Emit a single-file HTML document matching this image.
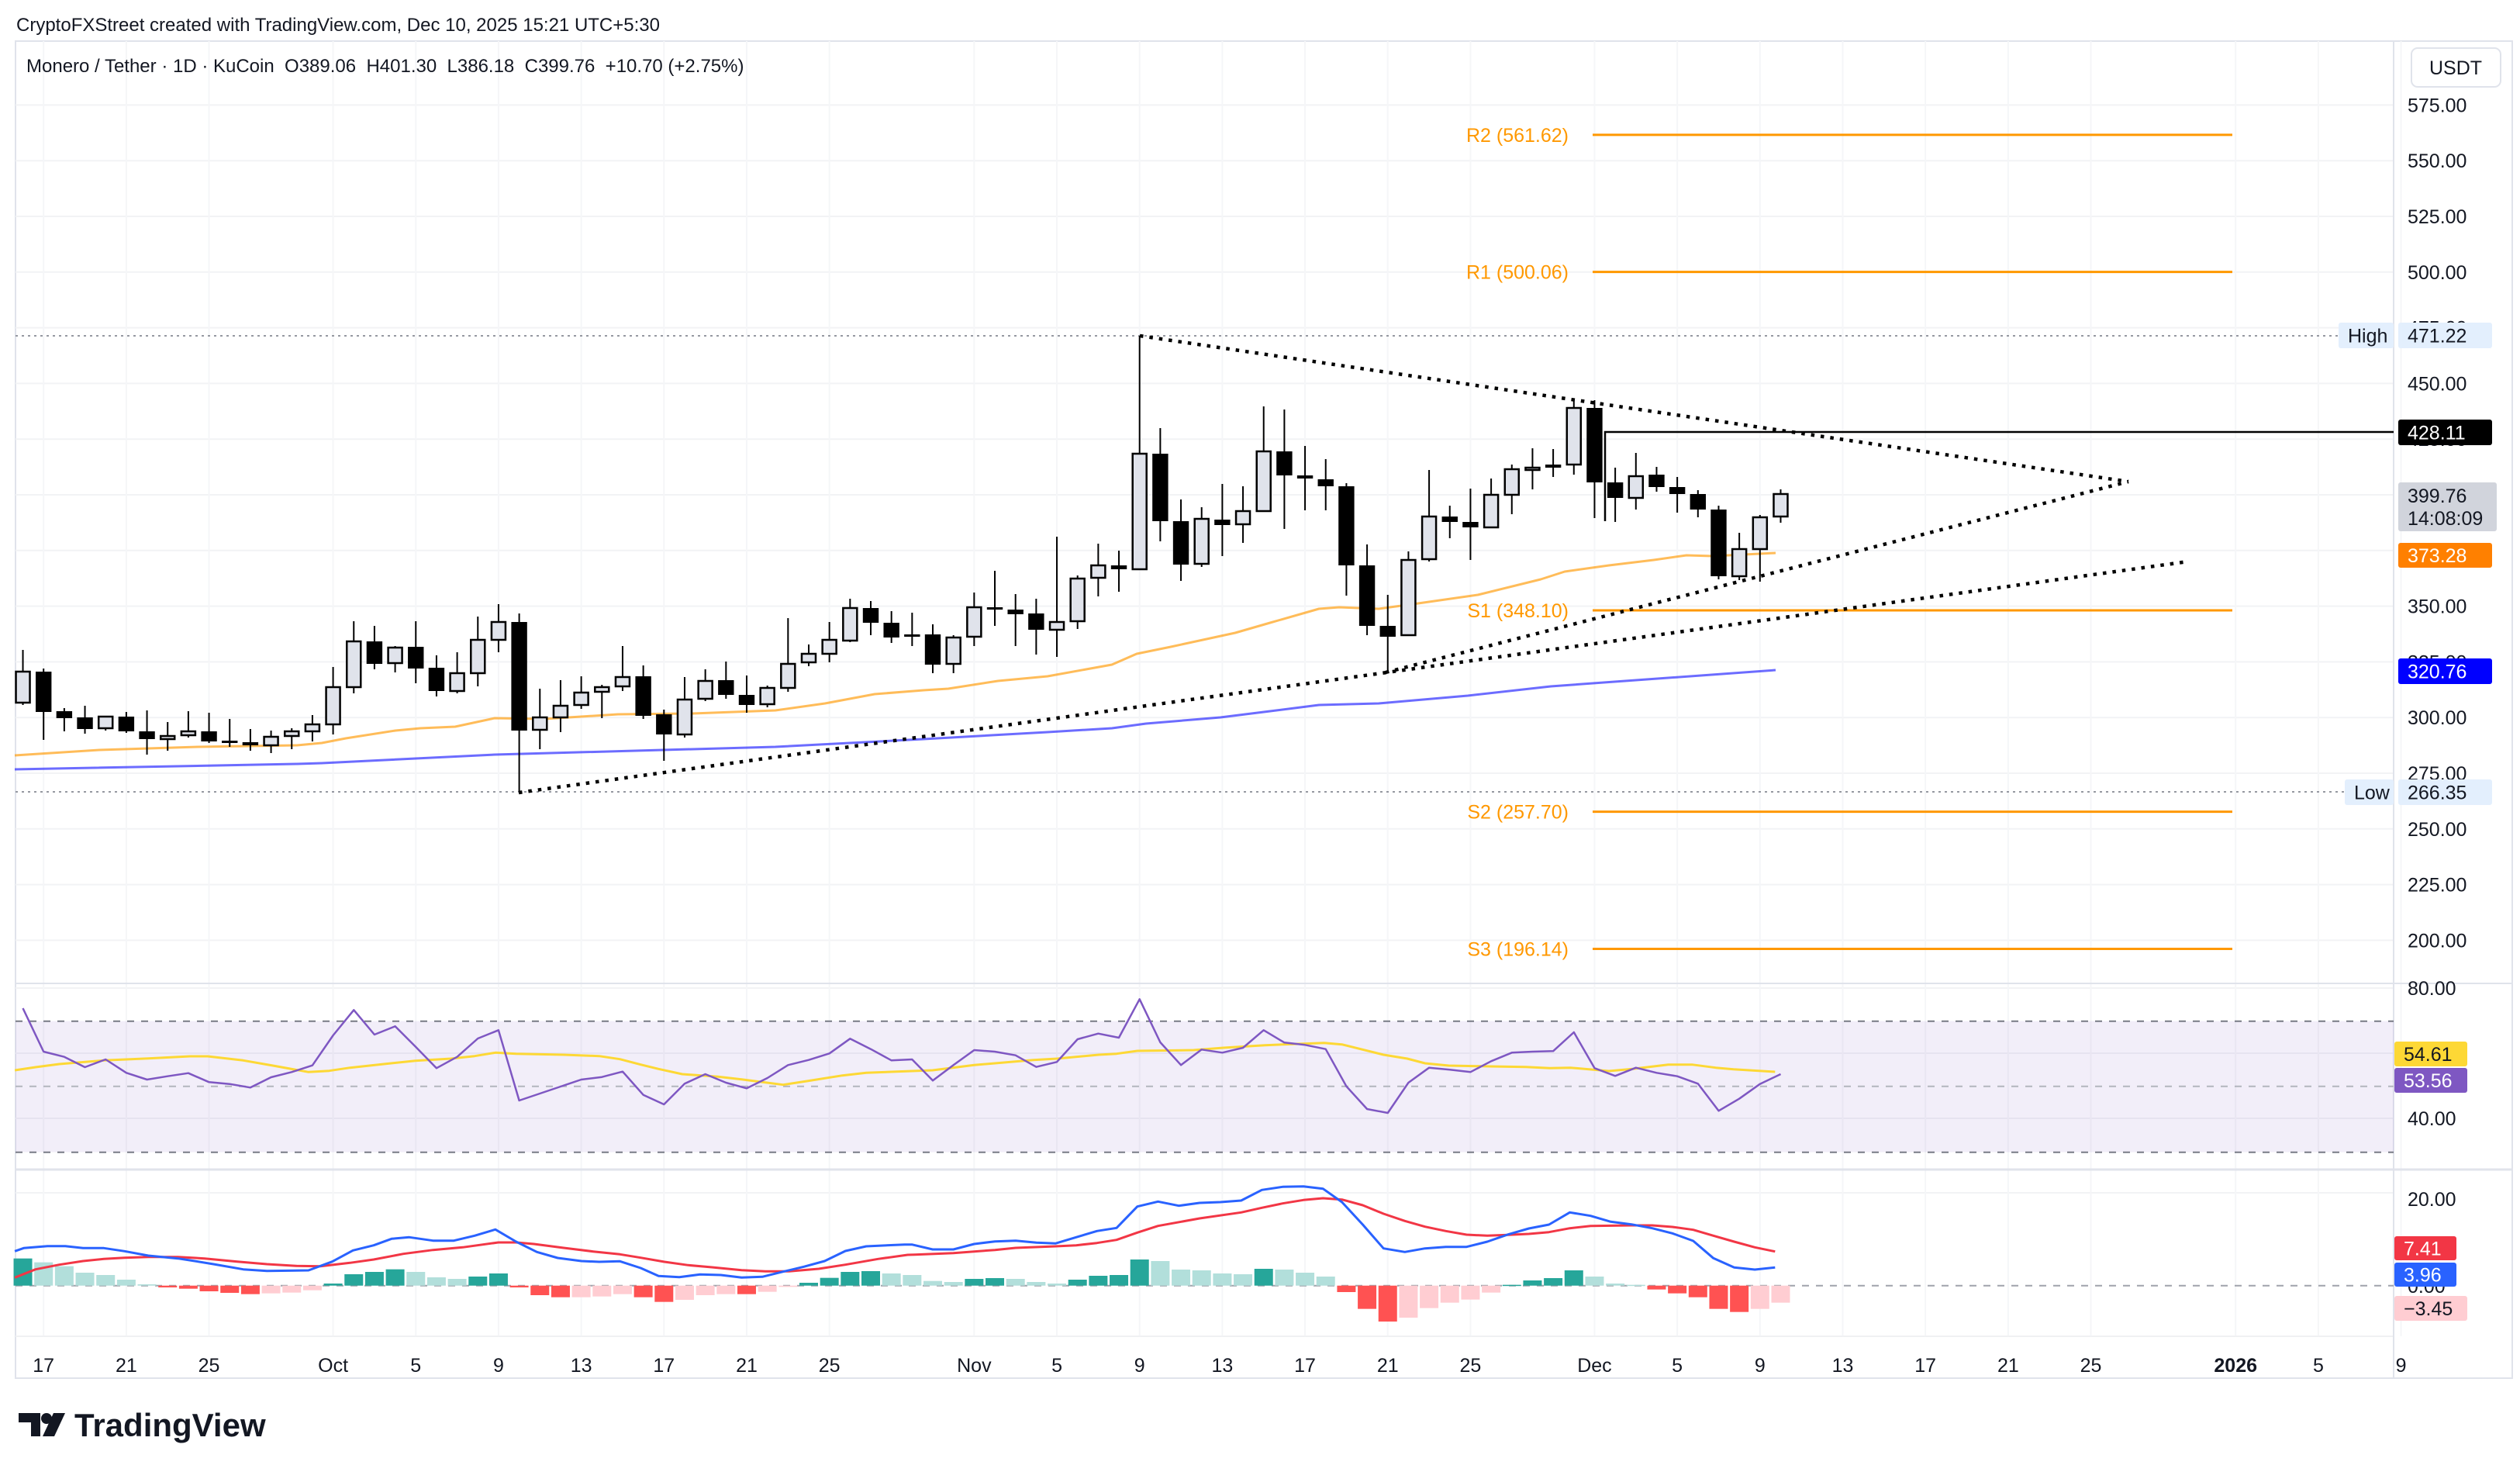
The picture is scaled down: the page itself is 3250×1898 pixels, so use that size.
<!DOCTYPE html>
<html><head><meta charset="utf-8">
<style>
html,body{margin:0;padding:0;background:#fff;}
svg{display:block;}
text{font-family:"Liberation Sans",sans-serif;}
</style></head>
<body>
<svg id="c" xmlns="http://www.w3.org/2000/svg" width="3250" height="1898" viewBox="0 0 3250 1898">
<rect width="3250" height="1898" fill="#fff"/>
<g id="grid"></g>
<g id="plot"></g>
<text x="21" y="40" font-size="24" fill="#131722">CryptoFXStreet created with TradingView.com, Dec 10, 2025 15:21 UTC+5:30</text>
<text x="34" y="93" font-size="24" fill="#131722" xml:space="preserve">Monero / Tether · 1D · KuCoin  O389.06  H401.30  L386.18  C399.76  +10.70 (+2.75%)</text>
<g id="axis"></g>
<!-- logo -->
<g fill="#131722">
<path d="M24 1822 H52 V1852 H40 V1834 H24 Z"/>
<circle cx="60" cy="1829" r="7"/>
<path d="M69 1822 H84 L70 1852 H55 Z"/>
</g>
<text x="96" y="1852" font-size="42" font-weight="bold" fill="#131722">TradingView</text>
</svg>
<script>
(function(){
var g=document.getElementById('grid'),p=document.getElementById('plot'),ax=document.getElementById('axis');
var G='',P='',A='';
function yP(v){return 135.4+(575-v)*2.872;}
function cx(i){return 56.2+26.67*(i-2);}
function dx(d){return 56.2+26.67*d;}
// frame
G+='<rect x="20" y="53" width="3220" height="1724" fill="none" stroke="#e0e3eb" stroke-width="2"/>';
// horizontal grid main
for(var v=575;v>=200;v-=25){var y=yP(v);G+='<line x1="20" x2="3087" y1="'+y+'" y2="'+y+'" stroke="#f2f3f5" stroke-width="2"/>';}
// rsi grid
[1274,1358,1442].forEach(function(y){G+='<line x1="20" x2="3087" y1="'+y+'" y2="'+y+'" stroke="#f2f3f5" stroke-width="2"/>';});
G+='<line x1="20" x2="3087" y1="1538" y2="1538" stroke="#f2f3f5" stroke-width="2"/>';
// vertical grid and labels
var labs=[[0,'17'],[4,'21'],[8,'25'],[14,'Oct'],[18,'5'],[22,'9'],[26,'13'],[30,'17'],[34,'21'],[38,'25'],[45,'Nov'],[49,'5'],[53,'9'],[57,'13'],[61,'17'],[65,'21'],[69,'25'],[75,'Dec'],[79,'5'],[83,'9'],[87,'13'],[91,'17'],[95,'21'],[99,'25'],[106,'2026'],[110,'5'],[114,'9']];
labs.forEach(function(l){var x=dx(l[0]);
 G+='<line x1="'+x+'" x2="'+x+'" y1="53" y2="1723" stroke="#f5f6f8" stroke-width="2"/>';
 A+='<text x="'+x+'" y="1769" font-size="25" text-anchor="middle" fill="#131722"'+(l[1]=='2026'?' font-weight="bold"':'')+'>'+l[1]+'</text>';});
// pane separators
G+='<line x1="20" x2="3240" y1="1268" y2="1268" stroke="#e0e3eb" stroke-width="2"/>';
G+='<line x1="20" x2="3240" y1="1508" y2="1508" stroke="#e0e3eb" stroke-width="3"/>';
G+='<line x1="20" x2="3087" y1="1723" y2="1723" stroke="#f0f1f3" stroke-width="2"/>';
G+='<line x1="3087" x2="3087" y1="53" y2="1777" stroke="#e0e3eb" stroke-width="2"/>';
// RSI band
G+='<rect x="20" y="1316.7" width="3067" height="169" fill="rgba(126,87,194,0.1)"/>';
G+='<line x1="20" x2="3087" y1="1316.7" y2="1316.7" stroke="#787b86" stroke-width="2" stroke-dasharray="9 9"/>';
G+='<line x1="20" x2="3087" y1="1485.7" y2="1485.7" stroke="#787b86" stroke-width="2" stroke-dasharray="9 9"/>';
G+='<line x1="20" x2="3087" y1="1400.7" y2="1400.7" stroke="#b2b5be" stroke-width="2" stroke-dasharray="9 9"/>';
G+='<line x1="20" x2="3087" y1="1657.7" y2="1657.7" stroke="#a0a3ab" stroke-width="2" stroke-dasharray="9 9"/>';
g.innerHTML=G;

// High/Low dotted
P+='<line x1="20" x2="3087" y1="433" y2="433" stroke="#9598a1" stroke-width="2" stroke-dasharray="3 5"/>';
P+='<line x1="20" x2="3087" y1="1021" y2="1021" stroke="#9598a1" stroke-width="2" stroke-dasharray="3 5"/>';
// pivots
[['R2 (561.62)',561.62],['R1 (500.06)',500.06],['S1 (348.10)',348.10],['S2 (257.70)',257.70],['S3 (196.14)',196.14]].forEach(function(q){var y=yP(q[1]);
 P+='<line x1="2054" x2="2879" y1="'+y+'" y2="'+y+'" stroke="#ff9800" stroke-width="3"/>';
 P+='<text x="2023" y="'+(y+9)+'" font-size="25" text-anchor="end" fill="#ff9800">'+q[0]+'</text>';});
function pl(pts,col,w,op){return '<polyline fill="none" stroke="'+col+'" stroke-width="'+w+'" stroke-linejoin="round" opacity="'+(op||1)+'" points="'+pts.map(function(a){return a[0].toFixed(1)+','+a[1].toFixed(1);}).join(' ')+'"/>';}
var ora=[[19,974],[128,967],[255,963],[383,961],[415,958],[446,952],[510,942],[542,939],[587,937],[638,926],[702,927],[797,921],[893,920],[1000,916],[1064,907],[1128,895],[1191,890],[1223,888],[1287,878],[1351,872],[1434,857],[1466,843],[1510,834],[1593,816],[1638,803],[1701,785],[1727,783],[1778,785],[1829,778],[1906,767],[1987,747],[2018,737],[2075,729],[2133,722],[2175,716],[2209,717],[2290,713]];
var blu=[[19,992],[383,985],[415,984],[638,973],[1000,963],[1191,953],[1351,944],[1434,939],[1478,933],[1574,925],[1638,917],[1701,909],[1778,907],[1893,897],[2000,885],[2290,864]];
P+=pl(ora,'#ff9800',3,0.65);
P+=pl(blu,'#2d2dff',3,0.7);
// trendlines
function dl(x1,y1,x2,y2){return '<line x1="'+x1+'" y1="'+y1+'" x2="'+x2+'" y2="'+y2+'" stroke="#000" stroke-width="4.5" stroke-dasharray="4.5 8"/>';}
P+=dl(1470,433,2745,621);
P+=dl(669,1022,2822,724);
P+=dl(1787,867,2745,621);
// black L line 428.11
P+='<polyline fill="none" stroke="#000" stroke-width="2.5" points="2070,672 2070,557 3087,557"/>';
// candles
var C=[[1,866,906,838,909],[0,866,918,862,954],[0,917,926,913,943],[0,925,940,910,946],[1,924,939,923,942],[0,924,943,918,945],[0,943,953,916,973],[1,949,953,931,968],[1,943,948,917,951],[0,943,956,919,958],
[0,955,958,927,963],[0,957,961,940,968],[1,950,961,942,971],[1,943,949,939,966],[1,934,943,922,956],[1,886,934,860,947],[1,827,886,801,894],[0,827,856,807,863],[1,835,855,833,867],[0,834,862,801,881],
[0,861,891,845,898],[1,868,891,841,894],[1,825,868,795,885],[1,802,825,779,841],[0,802,942,791,1021],[1,925,941,888,966],[1,910,925,877,944],[1,893,909,872,914],[1,886,892,883,926],[1,873,885,833,891],
[0,872,923,858,927],[0,921,947,915,981],[1,902,947,873,951],[1,878,901,863,904],[0,877,896,853,901],[0,896,909,871,919],[1,887,908,884,912],[1,856,887,797,892],[1,843,854,831,859],[1,825,843,802,854],
[1,784,826,772,828],[0,784,803,775,819],[0,803,822,788,829],[0,818,821,790,833],[0,818,857,805,868],[1,822,856,819,868],[1,783,821,764,833],[0,783,786,736,807],[0,786,792,766,833],[0,791,812,772,844],
[1,802,812,692,847],[1,746,801,742,811],[1,729,745,701,769],[0,729,734,710,763],[1,585,734,433,734],[0,585,672,552,698],[0,672,728,644,749],[1,669,727,654,731],[0,670,677,624,717],[1,659,676,627,700],
[1,582,659,524,660],[0,582,613,528,682],[0,613,617,575,658],[0,618,627,592,658],[0,627,729,623,768],[0,729,807,702,819],[0,807,821,767,867],[1,722,819,711,820],[1,666,721,606,724],[0,666,673,652,694],
[0,673,680,630,722],[1,638,680,617,680],[1,605,638,599,663],[1,603,606,578,631],[0,599,603,579,615],[1,526,599,516,612],[0,526,622,516,668],[0,622,642,603,673],[1,614,642,584,657],[0,612,628,602,634],
[0,628,637,615,661],[0,637,657,632,667],[0,657,743,652,747],[1,708,743,687,748],[1,667,708,664,750],[1,637,666,631,674]];
C.forEach(function(c,k){var x=cx(k+1);
 P+='<line x1="'+x+'" x2="'+x+'" y1="'+c[3]+'" y2="'+c[4]+'" stroke="#000" stroke-width="2"/>';
 var h=Math.max(c[2]-c[1],3);
 if(c[0]) P+='<rect x="'+(x-9)+'" y="'+c[1]+'" width="18" height="'+h+'" fill="#e0e3eb" stroke="#000" stroke-width="2.5"/>';
 else P+='<rect x="'+(x-10.2)+'" y="'+c[1]+'" width="20.4" height="'+h+'" fill="#000"/>';});
// RSI
var r7=[90,258,278,318,288,340,366,353,341,376,383,397,357,337,311,195,97,192,160,240,322,278,207,175,447,420,393,366,356,335,425,462,382,345,378,400,360,310,290,265,208,248,292,288];
var r8=[370,310,252,258,272,317,298,210,188,204,55,222,310,250,262,243,175,223,232,248,392,480,495,378,320,328,337,295,262,258,256,183,322,352,320,340,353,382,487,440,383,345];
var rs=r7.concat(r8).map(function(z,k){return [cx(k+1),1270+z/3];});
var m7=[[25,330],[60,318],[100,306],[175,292],[250,284],[320,276],[350,276],[410,292],[460,312],[520,337],[555,332],[590,320],[650,305],[700,293],[760,285],[800,275],[835,262],[870,266],[950,270],[1010,275],[1045,287],[1080,308],[1110,325],[1150,345],[1210,355],[1250,365],[1320,386],[1360,372],[1420,350],[1460,340]];
var m8=[[60,330],[130,310],[230,290],[270,285],[340,270],[370,266],[405,255],[500,252],[550,243],[620,233],[720,224],[750,230],[820,270],[860,285],[890,303],[930,312],[1000,315],[1060,317],[1100,322],[1135,320],[1200,333],[1240,325],[1300,308],[1340,308],[1380,320],[1410,326],[1480,336]];
function cv(a7,a8){var o=[];a7.forEach(function(q){o.push([q[0]/1.307,1270+q[1]/3]);});a8.forEach(function(q){o.push([1150+(q[0]+9)/1.307,1270+q[1]/3]);});return o;}
P+=pl(cv(m7,m8),'#fdd835',3);
P+=pl(rs,'#7e57c2',2.5);
// MACD histogram
var h7=[[1058,'d'],[1073,'l'],[1088,'l'],[1113,'l'],[1122,'l'],[1140,'l'],[1158,'l'],[1170,'R'],[1175,'R'],[1185,'R'],[1191,'R'],[1196,'R'],[1193,'P'],[1190,'P'],[1181,'P'],[1155,'d'],[1119,'d'],[1110,'d'],[1100,'d'],[1110,'l'],[1131,'l'],[1137,'l'],[1128,'d'],[1116,'d'],[1170,'R'],[1200,'R'],[1208,'R'],[1208,'P'],[1205,'P'],[1196,'P'],[1208,'R'],[1226,'R'],[1218,'P'],[1200,'P'],[1196,'P'],[1196,'R'],[1187,'P'],[1168,'P'],[1152,'d'],[1133,'d'],[1110,'d'],[1107,'d'],[1116,'l'],[1122,'l'],[1145,'l']];
var h8=[[1149,'l'],[1137,'d'],[1134,'d'],[1137,'l'],[1149,'l'],[1155,'l'],[1140,'d'],[1125,'d'],[1122,'d'],[1062,'d'],[1068,'l'],[1101,'l'],[1104,'l'],[1116,'l'],[1119,'l'],[1098,'d'],[1101,'l'],[1113,'l'],[1128,'l'],[1188,'R'],[1253,'R'],[1302,'R'],[1287,'P'],[1250,'P'],[1229,'P'],[1217,'P'],[1190,'P'],[1160,'d'],[1143,'d'],[1134,'d'],[1104,'d'],[1128,'l'],[1155,'l'],[1160,'l'],[1178,'R'],[1193,'R'],[1208,'R'],[1253,'R'],[1265,'R'],[1253,'P'],[1229,'P']];
var col={d:'#26a69a',l:'#b2dfdb',R:'#ff5252',P:'#ffcdd2'};
h7.concat(h8).forEach(function(b,k){var x=cx(k+1),y=1270+b[0]/3,z=1657.7;var t=Math.min(y,z),h=Math.max(Math.abs(y-z),1.5);
 P+='<rect x="'+(x-12)+'" y="'+t+'" width="24" height="'+h+'" fill="'+col[b[1]]+'"/>';});
var b7=[[25,1030],[40,1018],[80,1010],[110,1010],[140,1018],[175,1018],[210,1030],[250,1047],[300,1058],[320,1065],[360,1080],[410,1100],[450,1106],[520,1104],[560,1070],[595,1027],[630,1007],[660,982],[690,976],[730,989],[765,989],[800,970],[835,946],[870,993],[905,1033],[940,1056],[980,1068],[1010,1071],[1045,1069],[1080,1095],[1110,1126],[1145,1130],[1180,1120],[1215,1122],[1250,1132],[1285,1129],[1320,1109],[1355,1090],[1390,1068],[1425,1029],[1460,1011],[1525,1004]];
var b8=[[25,1004],[60,1023],[95,1023],[130,1002],[165,992],[200,989],[235,997],[267,1000],[302,976],[337,952],[370,940],[405,857],[440,838],[475,854],[510,843],[545,840],[580,834],[615,793],[650,781],[685,779],[718,788],[750,840],[785,927],[820,1019],[856,1033],[890,1019],[925,1013],[960,1013],[995,993],[1030,965],[1065,942],[1099,927],[1134,880],[1169,893],[1203,916],[1238,926],[1273,941],[1307,961],[1342,990],[1376,1057],[1411,1093],[1446,1101],[1480,1093]];
var e7=[[25,1132],[60,1100],[100,1082],[140,1068],[175,1060],[210,1055],[250,1052],[300,1052],[345,1058],[400,1070],[450,1080],[500,1087],[540,1088],[590,1075],[630,1062],[680,1040],[730,1025],[780,1015],[840,996],[870,996],[900,1002],[950,1017],[1000,1031],[1045,1042],[1080,1055],[1120,1071],[1160,1084],[1200,1092],[1250,1103],[1290,1108],[1330,1108],[1380,1098],[1425,1082],[1480,1060],[1530,1044]];
var e8=[[30,1043],[95,1037],[165,1025],[200,1017],[267,1011],[302,1007],[337,998],[370,986],[405,958],[440,932],[510,903],[580,880],[615,862],[650,845],[685,832],[718,825],[750,830],[785,852],[820,885],[856,913],[890,935],[925,952],[960,966],[995,970],[1030,967],[1065,963],[1099,956],[1134,941],[1169,932],[1238,930],[1273,930],[1307,936],[1342,947],[1376,970],[1411,993],[1446,1015],[1480,1031]];
P+=pl(cv(e7,e8),'#f23645',3);
P+=pl(cv(b7,b8),'#2962ff',3);
p.innerHTML=P;

// axis labels
for(var v=575;v>=200;v-=25){A+='<text x="3105" y="'+(yP(v)+9)+'" font-size="25" fill="#131722">'+v.toFixed(2)+'</text>';}
A+='<text x="3105" y="1283" font-size="25" fill="#131722">80.00</text>';
A+='<text x="3105" y="1451" font-size="25" fill="#131722">40.00</text>';
A+='<text x="3105" y="1555" font-size="25" fill="#131722">20.00</text>';
A+='<text x="3105" y="1667" font-size="25" fill="#131722">0.00</text>';
A+='<rect x="3110" y="62" width="115" height="50" rx="8" fill="#fff" stroke="#e0e3eb" stroke-width="2"/><text x="3167" y="96" font-size="25" text-anchor="middle" fill="#131722">USDT</text>';
function box(x,y,w,h,bg,fg,t,ty){return '<rect x="'+x+'" y="'+y+'" width="'+w+'" height="'+h+'" rx="3" fill="'+bg+'"/><text x="'+(x+12)+'" y="'+(ty||y+h/2+9)+'" font-size="25" fill="'+fg+'">'+t+'</text>';}
A+=box(3016,416,71,33,'#e3effd','#131722','High');
A+=box(3093,416,121,33,'#e3effd','#131722','471.22');
A+=box(3024,1005,63,33,'#e3effd','#131722','Low');
A+=box(3093,1005,121,33,'#e3effd','#131722','266.35');
A+=box(3093,541,121,33,'#000','#fff','428.11');
A+='<rect x="3093" y="622" width="127" height="63" rx="3" fill="#d1d4dc"/><text x="3105" y="648" font-size="25" fill="#131722">399.76</text><text x="3105" y="677" font-size="25" fill="#131722">14:08:09</text>';
A+=box(3093,700,121,32,'#ff8000','#fff','373.28');
A+=box(3093,849,121,33,'#0000ff','#fff','320.76');
A+=box(3088,1343,94,32,'#fdd835','#131722','54.61');
A+=box(3088,1377,94,32,'#7e57c2','#fff','53.56');
A+=box(3088,1594,80,31,'#f23645','#fff','7.41');
A+=box(3088,1628,80,31,'#2962ff','#fff','3.96');
A+=box(3088,1671,94,32,'#ffcdd2','#131722','\u22123.45');
ax.innerHTML=A;
})();
</script>
</body></html>
